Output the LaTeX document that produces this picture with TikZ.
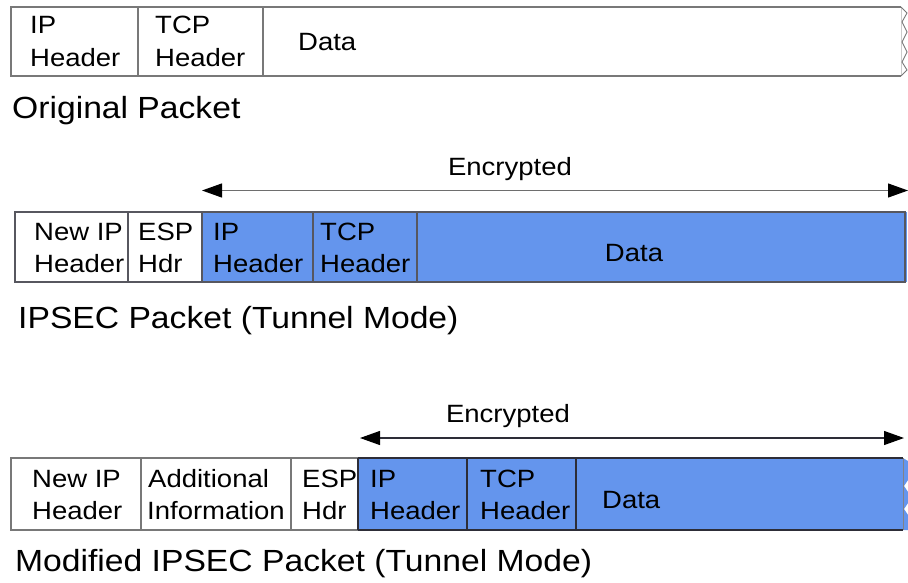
\documentclass[tikz,border=0pt]{standalone}
\usepackage{fontspec}
\setmainfont{Liberation Sans}[FakeStretch=1.1]
\usetikzlibrary{arrows.meta}
\definecolor{encblue}{RGB}{100,149,237}
\definecolor{edgegray}{RGB}{120,120,120}
\definecolor{edgedark}{RGB}{45,45,55}
\definecolor{arrgray}{RGB}{110,110,110}
\tikzset{
  boxtxt/.style={anchor=base west, inner sep=0pt, font=\fontsize{25}{29}\selectfont},
  boxtxtc/.style={anchor=base, inner sep=0pt, font=\fontsize{25}{29}\selectfont},
  title/.style={anchor=base west, inner sep=0pt, font=\fontsize{30.6}{36}\selectfont},
  enc/.style={{Triangle[length=20pt,width=14pt,color=black]}-{Triangle[length=20pt,width=14pt,color=black]}, line width=1.2pt},
}
\begin{document}
\begin{tikzpicture}[x=1pt,y=-1pt]
\useasboundingbox (0,0) rectangle (908,582);

% ---------- Original packet ----------
\draw[edgegray, line width=1.2pt] (901,7) -- (11,7) -- (11,76) -- (901,76);
\draw[black!20, line width=1pt] (901,7) -- (901,76);
\draw[edgegray, line width=0.9pt] (901,7) -- (907,13) -- (902,22) -- (907,32) -- (902,42) -- (907,52) -- (902,62) -- (907,70) -- (901,76);
\draw[edgegray, line width=1.2pt] (138,7) -- (138,76) (263,7) -- (263,76);
\node[boxtxt] (p1ipa) at (30,33.3) {IP};
\node[boxtxt] (p1ipb) at (30,66.7) {Header};
\node[boxtxt] (p1tcpa) at (155,33.3) {TCP};
\node[boxtxt] (p1tcpb) at (155,66.7) {Header};
\node[boxtxt] (p1data) at (298,50.6) {Data};
\node[title] (t1) at (12,118.3) {Original Packet};

% ---------- IPSEC packet ----------
\coordinate (e1l) at (202,190.5);
\coordinate (e1r) at (908,190.5);
\draw[enc, arrgray] (e1l) -- (e1r);
\node[boxtxtc] (enc1) at (510,175.6) {Encrypted};
\fill[encblue] (202,212) rectangle (907,282);
\draw[edgedark!80, line width=1.2pt] (15,212) rectangle (905,282);
\draw[edgedark!80, line width=1.2pt] (128,212) -- (128,282) (202,212) -- (202,282) (313,212) -- (313,282) (417,212) -- (417,282);
\node[boxtxt] (p2nipa) at (34,240) {New IP};
\node[boxtxt] (p2nipb) at (34,272.7) {Header};
\node[boxtxt] (p2espa) at (138,240) {ESP};
\node[boxtxt] (p2espb) at (138,272.7) {Hdr};
\node[boxtxt] (p2ipa) at (213,240) {IP};
\node[boxtxt] (p2ipb) at (213,272.7) {Header};
\node[boxtxt] (p2tcpa) at (320,240) {TCP};
\node[boxtxt] (p2tcpb) at (320,272.7) {Header};
\node[boxtxtc] (p2data) at (634,261.6) {Data};
\node[title] (t2) at (18,328) {IPSEC Packet (Tunnel Mode)};

% ---------- Modified IPSEC packet ----------
\coordinate (e2l) at (360,438);
\coordinate (e2r) at (904,438);
\draw[enc, edgedark] (e2l) -- (e2r);
\node[boxtxtc] (enc2) at (508,422.6) {Encrypted};
\fill[encblue] (358,458) -- (903,458) -- (908,461) -- (908,480) -- (904,486) -- (908,492) -- (908,503) -- (904,509) -- (908,515) -- (908,530) -- (358,530) -- cycle;
\draw[edgegray, line width=1.2pt] (358,458) -- (11,458) -- (11,530) -- (358,530);
\draw[edgegray, line width=1.2pt] (141,458) -- (141,530) (291,458) -- (291,530);
\draw[edgedark, line width=1.6pt] (358,458) -- (903,458) (358,530) -- (903,530);
\draw[edgedark, line width=1.2pt] (358,458) -- (358,530) (467,458) -- (467,530) (576,458) -- (576,530);
\draw[edgedark!60, line width=0.6pt] (903,458) -- (903,530);
\node[boxtxt] (p3nipa) at (32,487.3) {New IP};
\node[boxtxt] (p3nipb) at (32,519) {Header};
\node[boxtxt] (p3adda) at (148,487.3) {Additional};
\node[boxtxt] (p3addb) at (147,519) {Information};
\node[boxtxt] (p3espa) at (302,487.3) {ESP};
\node[boxtxt] (p3espb) at (302,519) {Hdr};
\node[boxtxt] (p3ipa) at (370,487.3) {IP};
\node[boxtxt] (p3ipb) at (370,519) {Header};
\node[boxtxt] (p3tcpa) at (480,487.3) {TCP};
\node[boxtxt] (p3tcpb) at (480,519) {Header};
\node[boxtxt] (p3data) at (602,508.6) {Data};
\node[title] (t3) at (15,571) {Modified IPSEC Packet (Tunnel Mode)};
\end{tikzpicture}
\end{document}
